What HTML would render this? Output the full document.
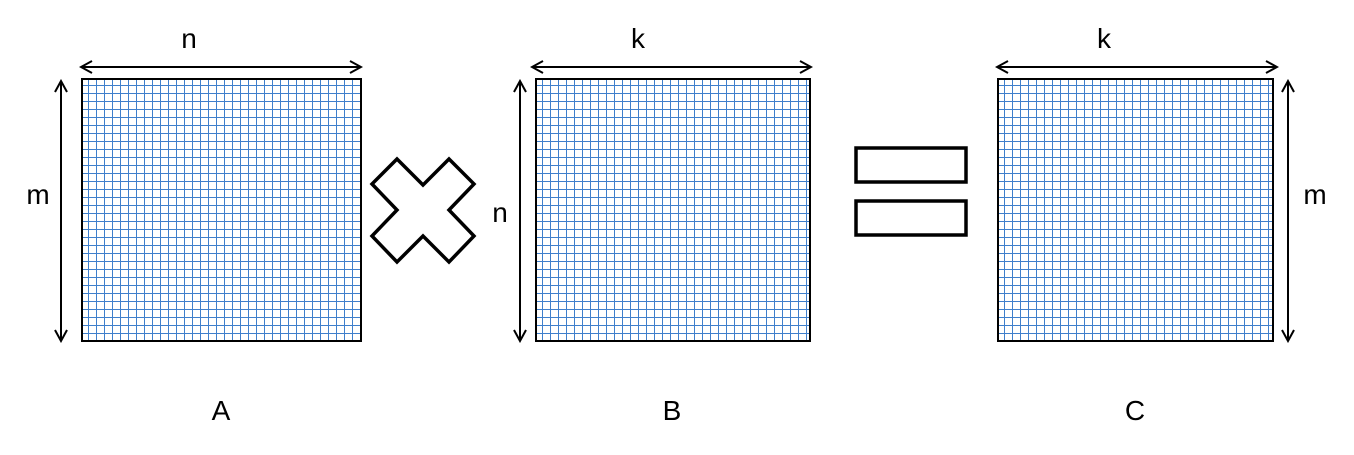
<!DOCTYPE html>
<html><head><meta charset="utf-8"><style>
html,body{margin:0;padding:0;background:#fff;width:1354px;height:455px;overflow:hidden;position:relative}
svg{position:absolute;left:0;top:0}
svg text{font-family:"Liberation Sans",sans-serif;font-size:28px;fill:#000}
.grid{position:absolute;box-sizing:border-box;border:2px solid #000;
background-color:#fff;
background-image:linear-gradient(to right,#3f7fcc 1px,transparent 1px),linear-gradient(to bottom,#3f7fcc 1px,transparent 1px);
background-size:8px 8px;background-position:5px 5px}
</style></head><body>
<div class="grid" style="left:81px;top:78px;width:281px;height:264px"></div>
<div class="grid" style="left:535px;top:78px;width:276px;height:264px"></div>
<div class="grid" style="left:997px;top:78px;width:277px;height:264px"></div>
<svg width="1354" height="455" viewBox="0 0 1354 455">
<defs>
<marker id="ah" markerWidth="14" markerHeight="14" refX="11" refY="7" orient="auto-start-reverse" markerUnits="userSpaceOnUse">
<path d="M1 1L12 7L1 13" fill="none" stroke="#000" stroke-width="2"/>
</marker>
</defs>
<g stroke="#000" stroke-width="2" fill="none">
<line x1="82" y1="67" x2="360" y2="67" marker-start="url(#ah)" marker-end="url(#ah)"/>
<line x1="61" y1="82" x2="61" y2="340" marker-start="url(#ah)" marker-end="url(#ah)"/>
<line x1="533" y1="67" x2="810" y2="67" marker-start="url(#ah)" marker-end="url(#ah)"/>
<line x1="520" y1="82" x2="520" y2="340" marker-start="url(#ah)" marker-end="url(#ah)"/>
<line x1="998" y1="67" x2="1276" y2="67" marker-start="url(#ah)" marker-end="url(#ah)"/>
<line x1="1288" y1="82" x2="1288" y2="340" marker-start="url(#ah)" marker-end="url(#ah)"/>
</g>
<polygon points="397,159 423,185 449,159 474,184 449,210 474,236 449,262 423,236 397,262 372,236 397,210 372,184" fill="#fff" stroke="#000" stroke-width="3.5" stroke-linejoin="miter"/>
<g fill="#fff" stroke="#000" stroke-width="3.5">
<rect x="856" y="148" width="110" height="34"/>
<rect x="856" y="201" width="110" height="34"/>
</g>
<text x="189" y="48" text-anchor="middle">n</text>
<text x="38" y="204" text-anchor="middle">m</text>
<text x="638" y="48" text-anchor="middle">k</text>
<text x="500" y="222" text-anchor="middle">n</text>
<text x="1104" y="48" text-anchor="middle">k</text>
<text x="1315" y="204" text-anchor="middle">m</text>
<text x="221" y="420" text-anchor="middle">A</text>
<text x="672" y="420" text-anchor="middle">B</text>
<text x="1135" y="420" text-anchor="middle">C</text>
</svg>
</body></html>
